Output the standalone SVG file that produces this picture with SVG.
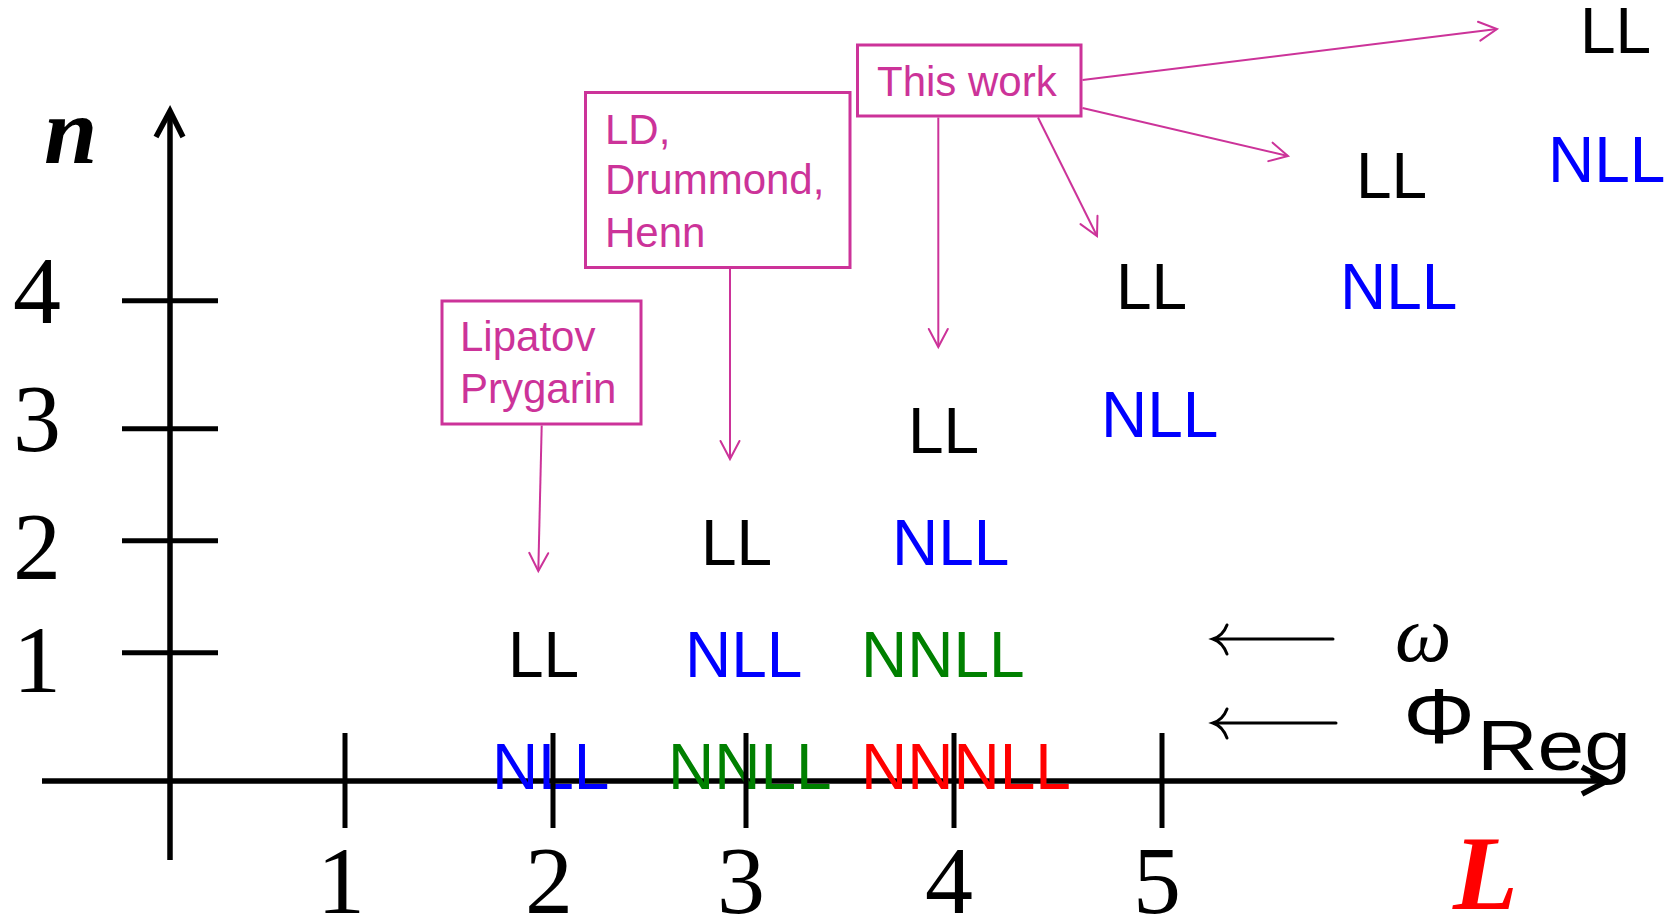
<svg xmlns="http://www.w3.org/2000/svg" width="1677" height="919" viewBox="0 0 1677 919">
  <style>
    .axis { stroke: #000; stroke-width: 5.5; fill: none; }
    .tick { stroke: #000; stroke-width: 5; }
    .num { font-family: "Liberation Serif", "Times New Roman", serif; font-size: 96px; fill: #000; text-anchor: middle; }
    .var { font-family: "Liberation Serif", "Times New Roman", serif; font-weight: bold; font-style: italic; }
    .lbl { font-family: "Liberation Sans", Arial, sans-serif; font-size: 64px; }
    .ll { fill: #000; }
    .nll { fill: #0000FF; }
    .nnll { fill: #008000; }
    .nnnll { fill: #FF0000; }
    .ref rect { fill: #fff; stroke: #CC3399; stroke-width: 3; }
    .ref text { font-family: "Liberation Sans", Arial, sans-serif; font-size: 42px; fill: #CC3399; }
    .conn { stroke: #CC3399; stroke-width: 2; fill: none; marker-end: url(#ah); }
    .larrow { stroke: #000; stroke-width: 3; fill: none; stroke-linecap: round; }
  </style>
  <defs>
    <marker id="ah" markerUnits="userSpaceOnUse" markerWidth="24" markerHeight="24" viewBox="-21 -12 24 24" refX="0" refY="0" orient="auto">
      <path d="M-18,-9.5 L0,0 L-18,9.5" fill="none" stroke="#CC3399" stroke-width="2" stroke-linecap="round"/>
    </marker>
  </defs>
  <rect width="1677" height="919" fill="#fff"/>

  <!-- axes -->
  <g id="axes">
    <line class="axis" x1="170" y1="112" x2="170" y2="860"/>
    <polyline class="axis" points="156,137 170,111 183,137"/>
    <line class="axis" x1="42" y1="781" x2="1605" y2="781"/>
    <polyline class="axis" points="1582,767 1607,781 1582,794"/>
  </g>

  <!-- axis variables -->
  <g id="var-n"><text class="var" x="44" y="163" font-size="96">n</text></g>
  <g id="var-L"><text class="var" x="1453" y="909" font-size="106" fill="#FF0000">L</text></g>

  <!-- tick numbers -->
  <g id="n-numbers">
    <text class="num" x="37" y="323">4</text>
    <text class="num" x="37" y="451">3</text>
    <text class="num" x="37" y="579">2</text>
    <text class="num" x="37" y="692">1</text>
  </g>
  <g id="L-numbers">
    <text class="num" x="341" y="913">1</text>
    <text class="num" x="549" y="913">2</text>
    <text class="num" x="741" y="913">3</text>
    <text class="num" x="949" y="913">4</text>
    <text class="num" x="1157" y="913">5</text>
  </g>

  <!-- accuracy labels -->
  <g id="row-n0" class="lbl">
    <text class="nll" x="492" y="789">NLL</text>
    <text class="nnll" x="668" y="789">NNLL</text>
    <text class="nnnll" x="861" y="789">NNNLL</text>
  </g>
  <g id="row-n1" class="lbl">
    <text class="ll" x="508" y="677">LL</text>
    <text class="nll" x="685" y="677">NLL</text>
    <text class="nnll" x="861" y="677">NNLL</text>
  </g>
  <g id="row-n2" class="lbl">
    <text class="ll" x="701" y="565">LL</text>
    <text class="nll" x="892" y="565">NLL</text>
  </g>
  <g id="row-n3" class="lbl">
    <text class="ll" x="908" y="453">LL</text>
    <text class="nll" x="1101" y="437">NLL</text>
  </g>
  <g id="row-n4" class="lbl">
    <text class="ll" x="1116" y="309">LL</text>
    <text class="nll" x="1340" y="309">NLL</text>
  </g>
  <g id="row-n5" class="lbl">
    <text class="ll" x="1356" y="198">LL</text>
    <text class="nll" x="1548" y="182">NLL</text>
  </g>
  <g id="row-n6" class="lbl">
    <text class="ll" x="1580" y="53">LL</text>
  </g>

  <!-- ticks drawn over the labels -->
  <g id="ticks">
    <line class="tick" x1="122" y1="300.7" x2="218" y2="300.7"/>
    <line class="tick" x1="122" y1="428.7" x2="218" y2="428.7"/>
    <line class="tick" x1="122" y1="540.7" x2="218" y2="540.7"/>
    <line class="tick" x1="122" y1="652.7" x2="218" y2="652.7"/>
    <line class="tick" x1="345" y1="733" x2="345" y2="828"/>
    <line class="tick" x1="553" y1="733" x2="553" y2="828"/>
    <line class="tick" x1="746" y1="733" x2="746" y2="828"/>
    <line class="tick" x1="954" y1="733" x2="954" y2="828"/>
    <line class="tick" x1="1162" y1="733" x2="1162" y2="828"/>
  </g>

  <!-- legend: omega and Phi_Reg -->
  <g id="legend-omega">
    <line class="larrow" x1="1333" y1="639" x2="1214" y2="639"/>
    <path class="larrow" d="M1227,625 C1224,633 1219,637 1213,639 C1219,641 1224,646 1227,654"/>
    <text x="1395" y="661" font-family="'Liberation Serif', 'Times New Roman', serif" font-style="italic" font-size="80">ω</text>
  </g>
  <g id="legend-phi">
    <line class="larrow" x1="1336" y1="723" x2="1214" y2="723"/>
    <path class="larrow" d="M1227,709 C1224,717 1219,721 1213,723 C1219,725 1224,730 1227,738"/>
    <text x="1403" y="743" font-family="'Liberation Sans', Arial, sans-serif" font-size="77" textLength="72" lengthAdjust="spacingAndGlyphs">Φ</text>
    <text x="1477" y="770" font-family="'Liberation Sans', Arial, sans-serif" font-size="70" textLength="154" lengthAdjust="spacingAndGlyphs">Reg</text>
  </g>

  <!-- reference boxes -->
  <g id="ref-lipatov" class="ref">
    <rect x="442" y="301" width="199" height="123"/>
    <text x="460" y="351">Lipatov</text>
    <text x="460" y="403">Prygarin</text>
  </g>
  <g id="ref-ldh" class="ref">
    <rect x="585.5" y="92.5" width="264.5" height="175"/>
    <text x="605" y="144">LD,</text>
    <text x="605" y="194">Drummond,</text>
    <text x="605" y="247">Henn</text>
  </g>
  <g id="ref-this" class="ref">
    <rect x="857.5" y="45" width="223.5" height="71"/>
    <text x="877" y="96">This work</text>
  </g>

  <!-- connectors -->
  <g id="connectors">
    <path class="conn" d="M541.7,425.5 L538.3,571"/>
    <path class="conn" d="M730,269 L730,459"/>
    <path class="conn" d="M938.3,117.5 L938.3,347"/>
    <path class="conn" d="M1038,117.5 L1097,236"/>
    <path class="conn" d="M1082.5,108 L1288,156"/>
    <path class="conn" d="M1082.5,80 L1497,29"/>
  </g>
</svg>
